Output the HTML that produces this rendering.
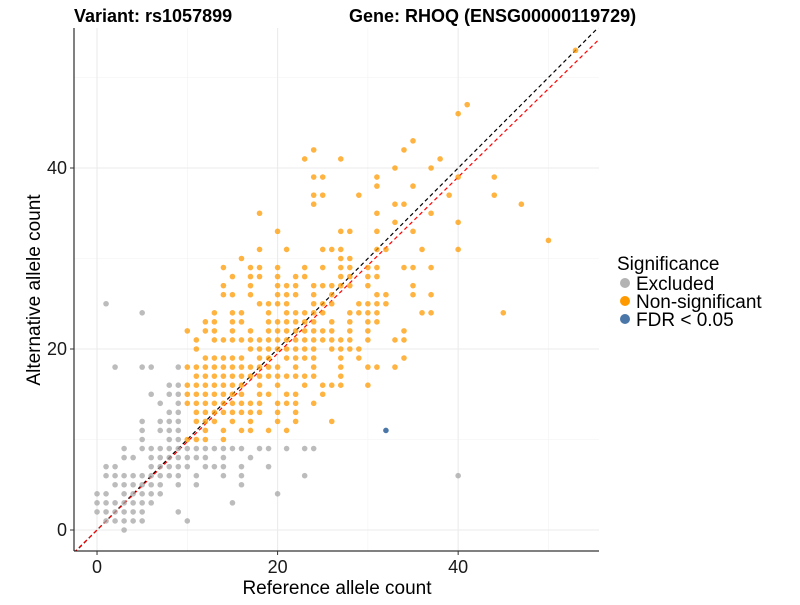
<!DOCTYPE html>
<html><head><meta charset="utf-8"><style>
body{margin:0;background:#fff;font-family:"Liberation Sans",Arial,sans-serif}
</style></head><body>
<svg id="chart" width="800" height="600" xmlns="http://www.w3.org/2000/svg">
<text x="74" y="22" font-size="18" font-weight="bold">Variant: rs1057899</text>
<text x="349" y="22" font-size="18" font-weight="bold">Gene: RHOQ (ENSG00000119729)</text>
<g id="grid"></g>
<g id="lines"></g>
<g id="points"></g>
<g id="axes"></g>
<text x="337" y="594" font-size="19" text-anchor="middle">Reference allele count</text>
<text transform="translate(40,290) rotate(-90)" font-size="19" text-anchor="middle">Alternative allele count</text>
<g>
<text x="617" y="270" font-size="19">Significance</text>
<circle cx="625" cy="283" r="5" fill="#b3b3b3"/>
<text x="636" y="290" font-size="19">Excluded</text>
<circle cx="625" cy="301" r="5" fill="#ff9900"/>
<text x="636" y="308" font-size="19">Non-significant</text>
<circle cx="625" cy="319" r="5" fill="#4a76a8"/>
<text x="636" y="326" font-size="19">FDR &lt; 0.05</text>
</g>
</svg>
<script>
const xTicks=[0,20,40];
const yTicks=[0,20,40];
const minorTicks=[10,30,50];
const fdr=[[32,11]];
const excludedRows=[[0,[3]],[1,[1,2,3,4,5,10]],[2,[0,1,2,3,4,5,9]],[3,[0,1,2,3,4,5,6,15]],[4,[0,1,3,4,5,6,7,20]],[5,[2,3,4,5,6,7,9,11,16]],[6,[1,2,3,4,5,6,7,8,9,11,14,16,23,40]],[7,[1,2,6,7,8,9,10,12,13,14,16,19]],[8,[3,4,6,7,8,9,10,11,12,14,17]],[9,[3,5,6,7,8,9,10,11,12,13,14,15,16,18,19,21,23,24]],[10,[5,8,9]],[11,[5,7,8,9]],[12,[5,7,8,9]],[13,[8,9]],[14,[7,9]],[15,[6,8,9]],[16,[8,9]],[18,[2,5,6,9]],[24,[5]],[25,[1]]];
const nonsigRows=[[10,[10,11,12,14]],[11,[12,14,16,17,19,21]],[12,[11,12,13,15,17,20,22,26]],[13,[11,12,13,14,15,16,17,18,20,22]],[14,[10,11,12,13,14,15,16,17,18,20,21,22,24]],[15,[10,11,12,13,14,15,16,18,19,21,22,25]],[16,[10,11,12,13,14,15,16,18,20,23,25,26,27,30]],[17,[11,12,13,14,15,16,17,18,19,20,21,22,23,24,27]],[18,[10,11,12,13,14,15,16,17,18,19,20,22,24,27,30,31,33]],[19,[12,13,14,15,16,18,19,21,22,23,24,27,29,34]],[20,[11,17,18,19,20,21,22,23,24,26,27,28,29]],[21,[11,13,14,15,16,17,18,19,20,21,22,23,24,25,26,27,28,30,33,34]],[22,[10,12,13,15,17,19,20,21,22,23,24,25,26,28,30,34]],[23,[12,13,15,16,19,20,21,22,23,24,26,28,30,31]],[24,[13,15,16,19,21,22,23,24,25,28,29,30,31,36,37,45]],[25,[18,19,20,21,24,25,26,29,30,31,32]],[26,[14,15,17,20,21,22,24,26,31,32,35,37]],[27,[14,17,20,21,22,24,25,26,27,28,30,35]],[28,[15,17,18,20,22,23,27,28,30,31]],[29,[14,17,18,20,23,25,27,28,30,31,34,35,37]],[30,[16,27,28]],[31,[18,21,25,26,27,31,32,36,40]],[32,[50]],[33,[20,27,28,31,35]],[34,[33,40]],[35,[18,31,37]],[36,[24,33,34,47]],[37,[24,25,29,39,44]],[38,[31,35]],[39,[24,25,31,40,44]],[40,[33,37]],[41,[23,27,38]],[42,[24,34]],[43,[35]],[46,[40]],[47,[41]],[53,[53]]];
const X0=74,X1=599,Y0=28,Y1=551,xMin=-2.55,xMax=55.6,yMin=-2.32,yMax=55.47;
function sx(v){return X0+(v-xMin)/(xMax-xMin)*(X1-X0);}
function sy(v){return Y1-(v-yMin)/(yMax-yMin)*(Y1-Y0);}
const NS='http://www.w3.org/2000/svg';
function mk(tag,attrs,parent){const e=document.createElementNS(NS,tag);for(const k in attrs)e.setAttribute(k,attrs[k]);parent.appendChild(e);return e;}
const grid=document.getElementById('grid');
minorTicks.forEach(t=>{
 let l=mk('line',{x1:sx(t),x2:sx(t),y1:Y0,y2:Y1,stroke:'#f2f2f2','stroke-width':0.6},grid);
 
 
 let m=mk('line',{x1:X0,x2:X1,y1:sy(t),y2:sy(t),stroke:'#f2f2f2','stroke-width':0.6},grid);
 
 
});
xTicks.forEach(t=>{
 let l=mk('line',{x1:sx(t),x2:sx(t),y1:Y0,y2:Y1,stroke:'#ebebeb','stroke-width':1.1},grid);
 
 
});
yTicks.forEach(t=>{
 let l=mk('line',{x1:X0,x2:X1,y1:sy(t),y2:sy(t),stroke:'#ebebeb','stroke-width':1.1},grid);
 
 
});
const pts=document.getElementById('points');
excludedRows.forEach(([a,refs])=>refs.forEach(r=>{
 const c=mk('circle',{cx:sx(r),cy:sy(a),r:2.8,fill:'#a6a6a6','fill-opacity':0.75},pts);
 
 
}));
nonsigRows.forEach(([a,refs])=>refs.forEach(r=>{
 const c=mk('circle',{cx:sx(r),cy:sy(a),r:2.8,fill:'#ff9900','fill-opacity':0.75},pts);
 
 
}));
fdr.forEach(([r,a])=>{
 const c=mk('circle',{cx:sx(r),cy:sy(a),r:2.8,fill:'#4a76a8'},pts);
 
 
});
const lines=document.getElementById('lines');
const clip=mk('clipPath',{id:'pc'},lines);mk('rect',{x:X0,y:Y0,width:X1-X0,height:Y1-Y0},clip);
let bl=mk('line',{x1:sx(xMin),y1:sy(xMin),x2:sx(xMax),y2:sy(xMax),stroke:'#000','stroke-width':1.2,'stroke-dasharray':'4,3','clip-path':'url(#pc)'},lines);


let rl=mk('line',{x1:sx(xMin),y1:sy(xMin*0.975),x2:sx(xMax),y2:sy(xMax*0.975),stroke:'#ff0000','stroke-width':1.2,'stroke-dasharray':'4,3','clip-path':'url(#pc)'},lines);


const axes=document.getElementById('axes');
let ya=mk('line',{x1:X0,x2:X0,y1:Y0,y2:Y1,stroke:'#000','stroke-width':1},axes);


let xa=mk('line',{x1:X0,x2:X1,y1:Y1,y2:Y1,stroke:'#000','stroke-width':1},axes);


xTicks.forEach(t=>{
 const tk=mk('line',{x1:sx(t),x2:sx(t),y1:Y1,y2:Y1+4,stroke:'#333'},axes);
 
 
 const tx=mk('text',{x:sx(t),y:Y1+22,'font-size':18,'text-anchor':'middle',fill:'#1a1a1a'},axes);tx.textContent=t;
 
 
});
yTicks.forEach(t=>{
 const tk=mk('line',{x1:X0-4,x2:X0,y1:sy(t),y2:sy(t),stroke:'#333'},axes);
 
 
 const tx=mk('text',{x:X0-7,y:sy(t)+6,'font-size':18,'text-anchor':'end',fill:'#1a1a1a'},axes);tx.textContent=t;
 
 
});
</script>
</body></html>
